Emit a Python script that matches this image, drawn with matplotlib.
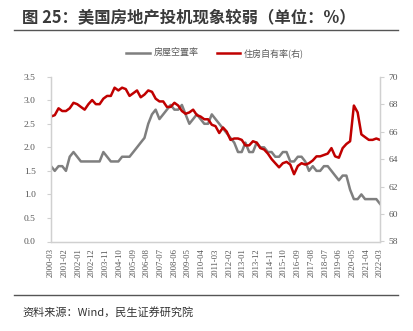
import matplotlib
matplotlib.use("Agg")
import matplotlib.pyplot as plt
import matplotlib.dates as mdates
import pandas as pd

# ---------------- data (quarterly, 2000-03 .. 2022-03) ----------------
start = "2000-03-01"
vacancy = [1.6, 1.5, 1.6, 1.6,
           1.5, 1.8, 1.9, 1.8,
           1.7, 1.7, 1.7, 1.7,
           1.7, 1.7, 1.9, 1.8,
           1.7, 1.7, 1.7, 1.8,
           1.8, 1.8, 1.9, 2.0,
           2.1, 2.2, 2.5, 2.7,
           2.8, 2.6, 2.7, 2.8,
           2.9, 2.8, 2.8, 2.9,
           2.7, 2.5, 2.6, 2.7,
           2.6, 2.5, 2.5, 2.7,
           2.6, 2.5, 2.4, 2.3,
           2.2, 2.1, 1.9, 1.9,
           2.1, 1.9, 1.9, 2.1,
           2.0, 2.0, 1.9, 1.9,
           1.8, 1.8, 1.9, 1.9,
           1.7, 1.7, 1.8, 1.8,
           1.7, 1.5, 1.6, 1.5,
           1.5, 1.6, 1.6, 1.5,
           1.4, 1.3, 1.4, 1.4,
           1.1, 0.9, 0.9, 1.0,
           0.9, 0.9, 0.9, 0.9,
           0.8]
ownership = [67.1, 67.2, 67.7, 67.5,
             67.5, 67.7, 68.1, 68.0,
             67.8, 67.6, 68.0, 68.3,
             68.0, 68.0, 68.4, 68.6,
             68.6, 69.2, 69.0, 69.2,
             69.1, 68.6, 68.8, 69.0,
             68.5, 68.7, 69.0, 68.9,
             68.4, 68.2, 68.2, 67.8,
             67.8, 68.1, 67.9, 67.5,
             67.3, 67.4, 67.6, 67.2,
             67.1, 66.9, 66.9, 66.5,
             66.4, 65.9, 66.3, 66.0,
             65.4, 65.5, 65.5, 65.4,
             65.0, 65.0, 65.3, 65.2,
             64.8, 64.7, 64.4, 64.0,
             63.7, 63.4, 63.7, 63.8,
             63.6, 62.9, 63.5, 63.7,
             63.6, 63.7, 63.9, 64.2,
             64.2, 64.3, 64.4, 64.8,
             64.2, 64.1, 64.8, 65.1,
             65.3, 67.9, 67.4, 65.8,
             65.6, 65.4, 65.4, 65.5,
             65.4]
series_names = ["房屋空置率", "住房自有率(右)"]
title = "图 25：美国房地产投机现象较弱（单位：%）"
source = "资料来源：Wind，民生证券研究院"

dates = pd.date_range(start, periods=len(vacancy), freq="3MS")
tick_dates = pd.date_range(start, dates[-1], freq="11MS")

# ---------------- figure ----------------
plt.rcParams["font.family"] = ["Noto Sans CJK SC", "DejaVu Sans"]
W, H = 413, 331
fig = plt.figure(figsize=(W / 100, H / 100), dpi=100)
ax = fig.add_axes([51 / W, 1 - 241.5 / H, (380 - 51) / W, (241.5 - 76.7) / H])
ax2 = ax.twinx()

gray = "#7f7f7f"
red = "#c00000"
l1, = ax.plot(dates, vacancy, color=gray, lw=1.8, solid_joinstyle="round")
l2, = ax2.plot(dates, ownership, color=red, lw=1.8, solid_joinstyle="round")

ax.set_ylim(0, 3.5)
ax.set_yticks([0, 0.5, 1.0, 1.5, 2.0, 2.5, 3.0, 3.5])
ax.set_yticklabels([f"{v:.1f}" for v in ax.get_yticks()])
ax2.set_ylim(58, 70)
ax2.set_yticks(range(58, 71, 2))
ax.set_xlim(dates[0], dates[-1])
ax.set_xticks(tick_dates)
ax.xaxis.set_major_formatter(mdates.DateFormatter("%Y-%m"))

spine_c = "#d0d0d0"
for a in (ax, ax2):
    a.spines["top"].set_visible(False)
    for s in ("left", "right", "bottom"):
        a.spines[s].set_color(spine_c)
        a.spines[s].set_linewidth(0.9)
ax.tick_params(axis="y", length=3, color=spine_c, labelsize=6.8, labelcolor="#555555", pad=8)
ax2.tick_params(axis="y", length=3, color=spine_c, labelsize=6.8, labelcolor="#555555", pad=3)
ax.tick_params(axis="x", length=0, labelsize=6.2, labelcolor="#555555", rotation=90, pad=5)
for lab in ax.get_xticklabels() + ax.get_yticklabels() + ax2.get_yticklabels():
    lab.set_fontfamily(["Liberation Serif", "DejaVu Serif"])

# legend
fig.legend([l1, l2], series_names, loc="center", bbox_to_anchor=(215 / W, 1 - 53 / H),
           ncol=2, frameon=False, fontsize=6.5, handlelength=2.6, columnspacing=2.0,
           handletextpad=0.4, labelcolor="#595959")

# title + rules
fig.text(22 / W, 1 - 17 / H, title, fontsize=11.8, fontweight="bold", color="#3a3a3a",
         va="center", ha="left")
fig.add_artist(plt.Line2D([14 / W, 398 / W], [1 - 30 / H, 1 - 30 / H], color="#555555", lw=1.0))
fig.add_artist(plt.Line2D([14 / W, 398 / W], [1 - 295 / H, 1 - 295 / H], color="#555555", lw=1.0))
fig.text(22 / W, 1 - 312 / H, source, fontsize=8.0, color="#333333", va="center", ha="left")

fig.savefig("out.png", dpi=100)
